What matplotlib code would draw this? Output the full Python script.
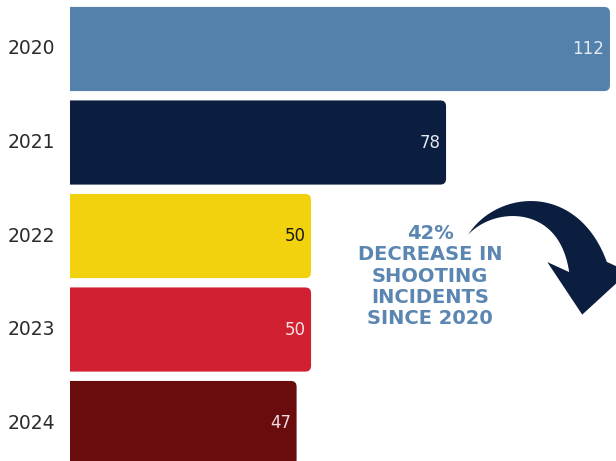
import numpy as np
import matplotlib.pyplot as plt
from matplotlib.patches import FancyBboxPatch, Polygon

years = ['2020', '2021', '2022', '2023', '2024']
incidents = [112, 78, 50, 50, 47]
bar_colors = ['#5481ac', '#0b1e3f', '#f2d10e', '#d12031', '#6a0c0d']
label_colors = ['#e3eaf2', '#e3e7ee', '#1a1a1a', '#f5e3e4', '#eedcdc']
callout = '42%\nDECREASE IN\nSHOOTING\nINCIDENTS\nSINCE 2020'

fig = plt.figure(figsize=(6.16, 4.61), dpi=100)
ax = fig.add_axes([70 / 616, 0, 546 / 616, 1])
ax.set_xlim(0, 113.25)
ax.set_ylim(4.406, -0.524)
ax.axis('off')

# px per data unit, keeps the corner rounding circular
sx = 546 / 113.25
sy = 461 / 4.93
for i, (v, c) in enumerate(zip(incidents, bar_colors)):
    box = FancyBboxPatch((-3, i - 0.45), v + 3, 0.9,
                         boxstyle='round,pad=0,rounding_size=1.2',
                         mutation_aspect=sx / sy,
                         facecolor=c, edgecolor='none')
    ax.add_patch(box)
    ax.text(v - 1.2, i, str(v), ha='right', va='center', fontsize=12,
            color=label_colors[i], family='DejaVu Sans')
    ax.text(-3.1, i, years[i], ha='right', va='center', fontsize=13.5,
            color='#2b2b2b', family='DejaVu Sans', clip_on=False)

# overlay in pixel units for the callout and the curved arrow
ov = fig.add_axes([0, 0, 1, 1], zorder=5)
ov.set_xlim(0, 616)
ov.set_ylim(461, 0)
ov.axis('off')

ov.text(430, 276, callout, ha='center', va='center', fontsize=14,
        fontweight='bold', color='#5b86b1', family='DejaVu Sans',
        linespacing=1.16)

# tapered shaft along a cubic bezier, then a triangular head
p0 = np.array([468.0, 235.0])
c1 = np.array([495.0, 199.0])
c2 = np.array([568.0, 193.0])
p3 = np.array([588.0, 267.0])
t = np.linspace(0, 1, 80)[:, None]
pts = (1 - t) ** 3 * p0 + 3 * (1 - t) ** 2 * t * c1 + 3 * (1 - t) * t ** 2 * c2 + t ** 3 * p3
der = 3 * (1 - t) ** 2 * (c1 - p0) + 6 * (1 - t) * t * (c2 - c1) + 3 * t ** 2 * (p3 - c2)
der = der / np.linalg.norm(der, axis=1, keepdims=True)
nrm = np.column_stack([-der[:, 1], der[:, 0]])
w = 39 * t ** 1.15 / 2
side_a = pts + nrm * w
side_b = pts - nrm * w

hd = np.array([-0.12, 0.99])
hd = hd / np.linalg.norm(hd)
hn = np.array([-hd[1], hd[0]])
barb_a = p3 + hn * 41
barb_b = p3 - hn * 41
tip = p3 + hd * 48
shape = np.vstack([side_a, barb_a, tip, barb_b, side_b[::-1]])
ov.add_patch(Polygon(shape, closed=True, facecolor='#0b1e3f', edgecolor='none'))

fig.savefig('out.png', dpi=100)
